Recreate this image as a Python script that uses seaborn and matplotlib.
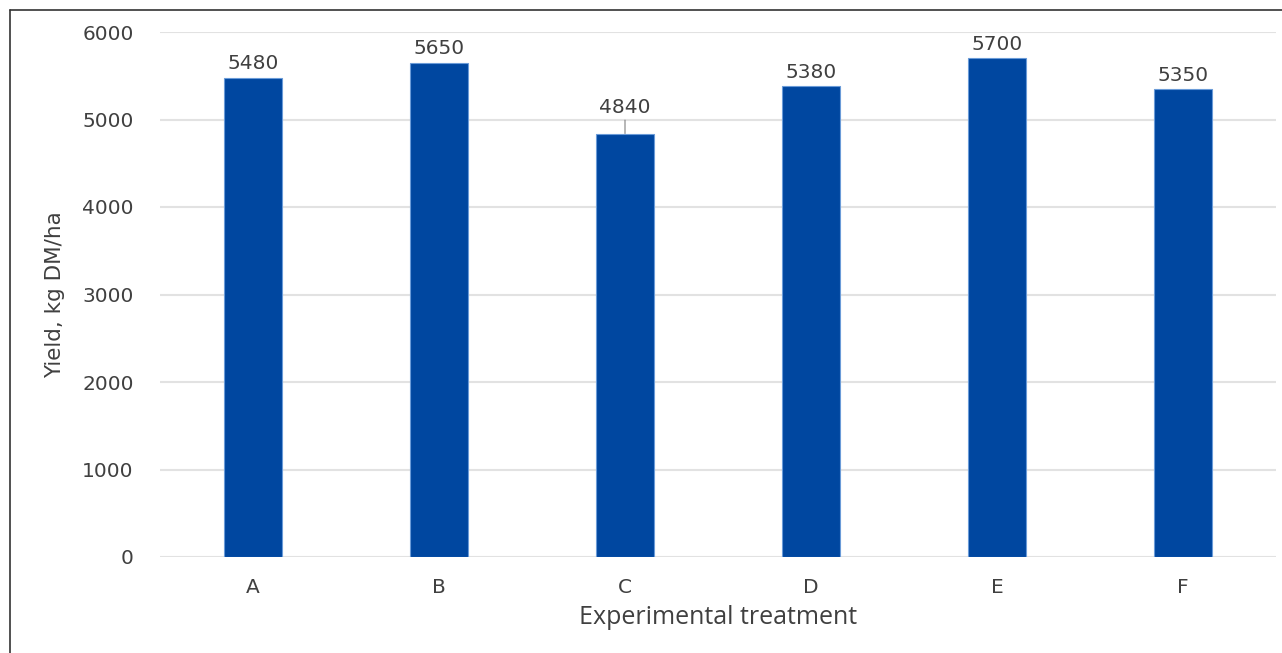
import matplotlib
matplotlib.use('Agg')
import matplotlib.pyplot as plt
from matplotlib.lines import Line2D
import seaborn as sns
import pandas as pd

treatments = ['A', 'B', 'C', 'D', 'E', 'F']
yields = [5480, 5650, 4840, 5380, 5700, 5350]
yticks = [0, 1000, 2000, 3000, 4000, 5000, 6000]

df = pd.DataFrame({'treatment': treatments, 'yield': yields})

sns.set_style('white')
plt.rcParams['font.family'] = ['DejaVu Sans']

BAR = '#0047A0'
TXT = '#404040'

fig = plt.figure(figsize=(12.82, 6.53), dpi=100)
ax = fig.add_axes([160 / 1282, 1 - 557 / 653, 1116 / 1282, 525 / 653])

sns.barplot(data=df, x='treatment', y='yield', color=BAR, width=0.31,
            edgecolor='#6A9BD8', linewidth=0.8, saturation=1, ax=ax)

ax.set_ylim(0, 6000)
ax.set_yticks(yticks)
ax.yaxis.grid(True, color='#E2E2E2', linewidth=1.5)
ax.set_axisbelow(True)
for s in ax.spines.values():
    s.set_visible(False)
ax.tick_params(axis='both', length=0, colors=TXT, labelsize=14.5)
ax.tick_params(axis='y', pad=19)
ax.tick_params(axis='x', pad=15)

# value labels
for i, v in enumerate(yields):
    if treatments[i] == 'C':
        ax.annotate(str(v), xy=(i, v), xytext=(0, 12), textcoords='offset points',
                    ha='center', va='bottom', fontsize=14.5, color=TXT,
                    arrowprops=dict(arrowstyle='-', color='#808080', lw=0.8,
                                    shrinkA=0, shrinkB=0))
    else:
        ax.annotate(str(v), xy=(i, v), xytext=(0, 3), textcoords='offset points',
                    ha='center', va='bottom', fontsize=14.5, color=TXT)

ax.set_xlabel('Experimental treatment', fontsize=18, color=TXT,
              family='Open Sans', labelpad=6)
ax.set_ylabel('Yield, kg DM/ha', fontsize=15.5, color=TXT,
              family='Liberation Sans Narrow', labelpad=12)

# outer frame (left and top edges)
fig.add_artist(Line2D([10 / 1282, 10 / 1282], [0, 1 - 10 / 653],
                      transform=fig.transFigure, color='#333333', lw=1.2))
fig.add_artist(Line2D([10 / 1282, 1], [1 - 10 / 653, 1 - 10 / 653],
                      transform=fig.transFigure, color='#333333', lw=1.2))

fig.savefig('out.png', dpi=100)
